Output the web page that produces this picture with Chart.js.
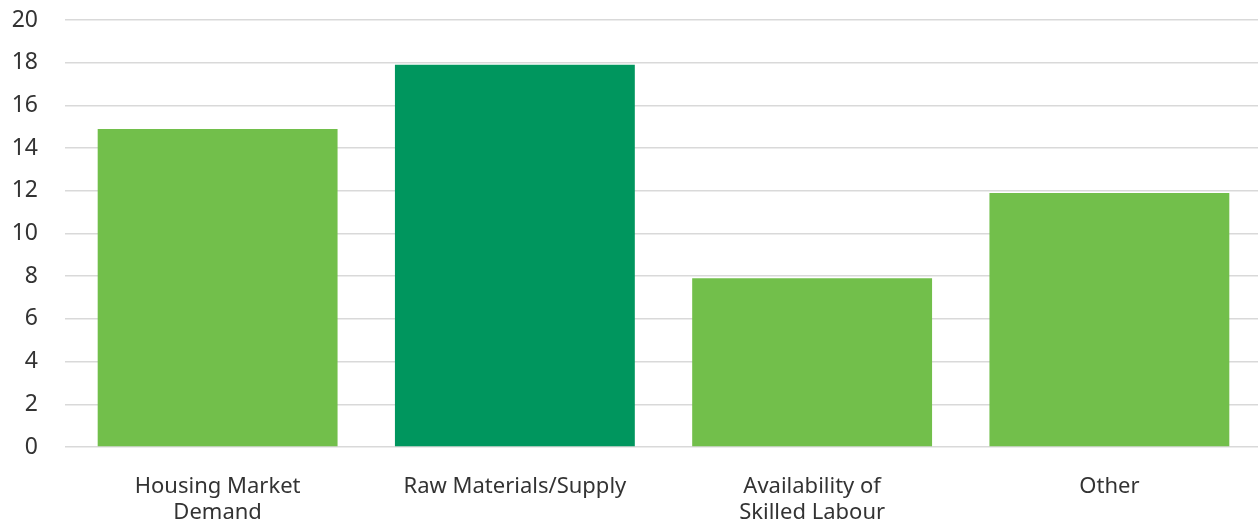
<!DOCTYPE html>
<html>
<head>
<meta charset="utf-8">
<script src="https://cdn.jsdelivr.net/npm/chart.js@4"></script>
<style>
  html, body { margin: 0; padding: 0; background: #fff; }
  #wrap { width: 1258px; height: 523px; }
</style>
</head>
<body>
<div id="wrap"><canvas id="barChart"></canvas></div>
<script>
const CHART = document.getElementById('barChart');

var categories = [["Housing Market", "Demand"], "Raw Materials/Supply", ["Availability of", "Skilled Labour"], "Other"];
var values = [14.9, 17.9, 7.9, 11.9];
var barColors = ["#72bf4b", "#00965e", "#72bf4b", "#72bf4b"];

Chart.defaults.font.family = "'Noto Sans', 'DejaVu Sans', sans-serif";
Chart.defaults.color = "#333333";

var barChart = new Chart(CHART, {
  type: 'bar',
  data: {
    labels: categories,
    datasets: [{
      data: values,
      backgroundColor: barColors,
      borderWidth: 0,
      categoryPercentage: 1,
      barPercentage: 0.807
    }]
  },
  options: {
    responsive: true,
    maintainAspectRatio: false,
    animation: false,
    layout: { padding: { top: 20, right: 0, left: 0, bottom: 0 } },
    plugins: { legend: { display: false }, tooltip: { enabled: false } },
    scales: {
      x: {
        grid: { display: false },
        border: { display: false },
        ticks: { font: { size: 22, lineHeight: 1.18 }, padding: 19, maxRotation: 0, autoSkip: false },
        afterFit: function(scale) { scale.height = 76; }
      },
      y: {
        min: 0,
        max: 20,
        grid: { color: "#d9d9d9", lineWidth: 1.5, tickLength: 4, drawTicks: true },
        border: { display: false },
        ticks: { stepSize: 2, font: { size: 23 }, padding: 27 },
        afterFit: function(scale) {
          scale.width = 69;
          // tick padding would otherwise push the plot top down
          scale.paddingTop = 12;
          scale.paddingBottom = 12;
        }
      }
    }
  }
});
</script>
</body>
</html>
